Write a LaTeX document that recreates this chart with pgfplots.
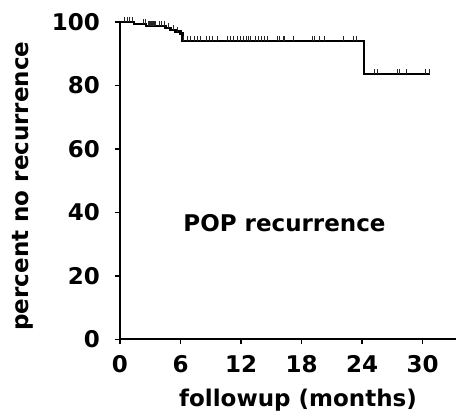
\documentclass[border=0pt]{standalone}
\usepackage{fontspec}
\setmainfont{DejaVu Sans}
\usepackage{pgfplots}
\pgfplotsset{compat=1.18}
\pgfdeclareplotmark{cens}{%
  \pgfpathmoveto{\pgfpoint{0pt}{0pt}}%
  \pgfpathlineto{\pgfpoint{0pt}{5pt}}%
  \pgfusepathqstroke}
\begin{document}
\begin{tikzpicture}[font=\fontsize{23}{27}\selectfont\bfseries]
\begin{axis}[
  at={(0,0)}, anchor=south west,
  scale only axis, width=336pt, height=317.5pt,
  xmin=0, xmax=33.3, ymin=0, ymax=100,
  axis x line*=bottom, axis y line*=left,
  axis line style={line width=2pt, -},
  xtick={0,6,12,18,24,30}, xticklabels={0,6,12,18,24,30},
  ytick={0,20,40,60,80,100}, yticklabels={0,20,40,60,80,100},
  tick align=outside, major tick length=5pt,
  tick style={line width=1.5pt, black},
  xticklabel style={anchor=north, inner sep=0pt, yshift=-11pt},
  yticklabel style={anchor=east, inner sep=0pt, xshift=-15pt},
  xlabel={followup (months)},
  ylabel={percent no recurrence},
  xlabel style={at={(axis description cs:0.5298,-0.2115)}, anchor=base, inner sep=0pt},
  ylabel style={at={(axis description cs:-0.271,0.4835)}, anchor=base, inner sep=0pt},
  clip=false,
]
\addplot[const plot, line width=2.2pt, black] coordinates {
  (0,100) (1.4,99.4) (2.6,98.8) (4.5,98.2) (5.0,97.6) (5.5,97.0) (6.0,96.4) (6.2,94.1) (24.2,83.6) (30.7,83.6)
};
\addplot[only marks, mark=cens, mark options={line width=0.9pt, black!85}] coordinates {
  (0.43,100) (0.69,100) (0.92,100) (1.2,100)
  (2.3,99.4) (2.5,99.4)
  (2.8,98.8) (2.9,98.8) (3.0,98.8) (3.1,98.8) (3.2,98.8) (3.3,98.8) (3.4,98.8) (3.5,98.8) (3.9,98.8) (4.1,98.8) (4.4,98.8)
  (4.8,98.2) (5.3,97.6) (5.7,97.0)
  (6.3,94.1) (6.7,94.1) (7.0,94.1) (7.4,94.1) (7.7,94.1) (8.0,94.1) (8.6,94.1) (8.9,94.1) (9.2,94.1) (9.7,94.1)
  (10.6,94.1) (10.9,94.1) (11.2,94.1) (11.6,94.1) (11.9,94.1) (12.2,94.1) (12.5,94.1) (12.7,94.1) (12.9,94.1)
  (13.4,94.1) (13.7,94.1) (14.0,94.1) (14.3,94.1) (14.6,94.1) (15.6,94.1) (15.8,94.1) (16.2,94.1) (16.3,94.1)
  (17.2,94.1) (19.1,94.1) (19.3,94.1) (19.8,94.1) (20.3,94.1) (22.1,94.1) (23.1,94.1) (23.4,94.1)
  (25.2,83.6) (25.5,83.6) (27.5,83.6) (27.7,83.6) (28.4,83.6) (30.3,83.6) (30.7,83.6)
};
\node[anchor=center] at (axis cs:16.3,36.75) {POP recurrence};
\end{axis}
\pgfresetboundingbox
\path[use as bounding box] (-120pt,-72.5pt) rectangle (336pt,339.5pt);
\end{tikzpicture}
\end{document}
